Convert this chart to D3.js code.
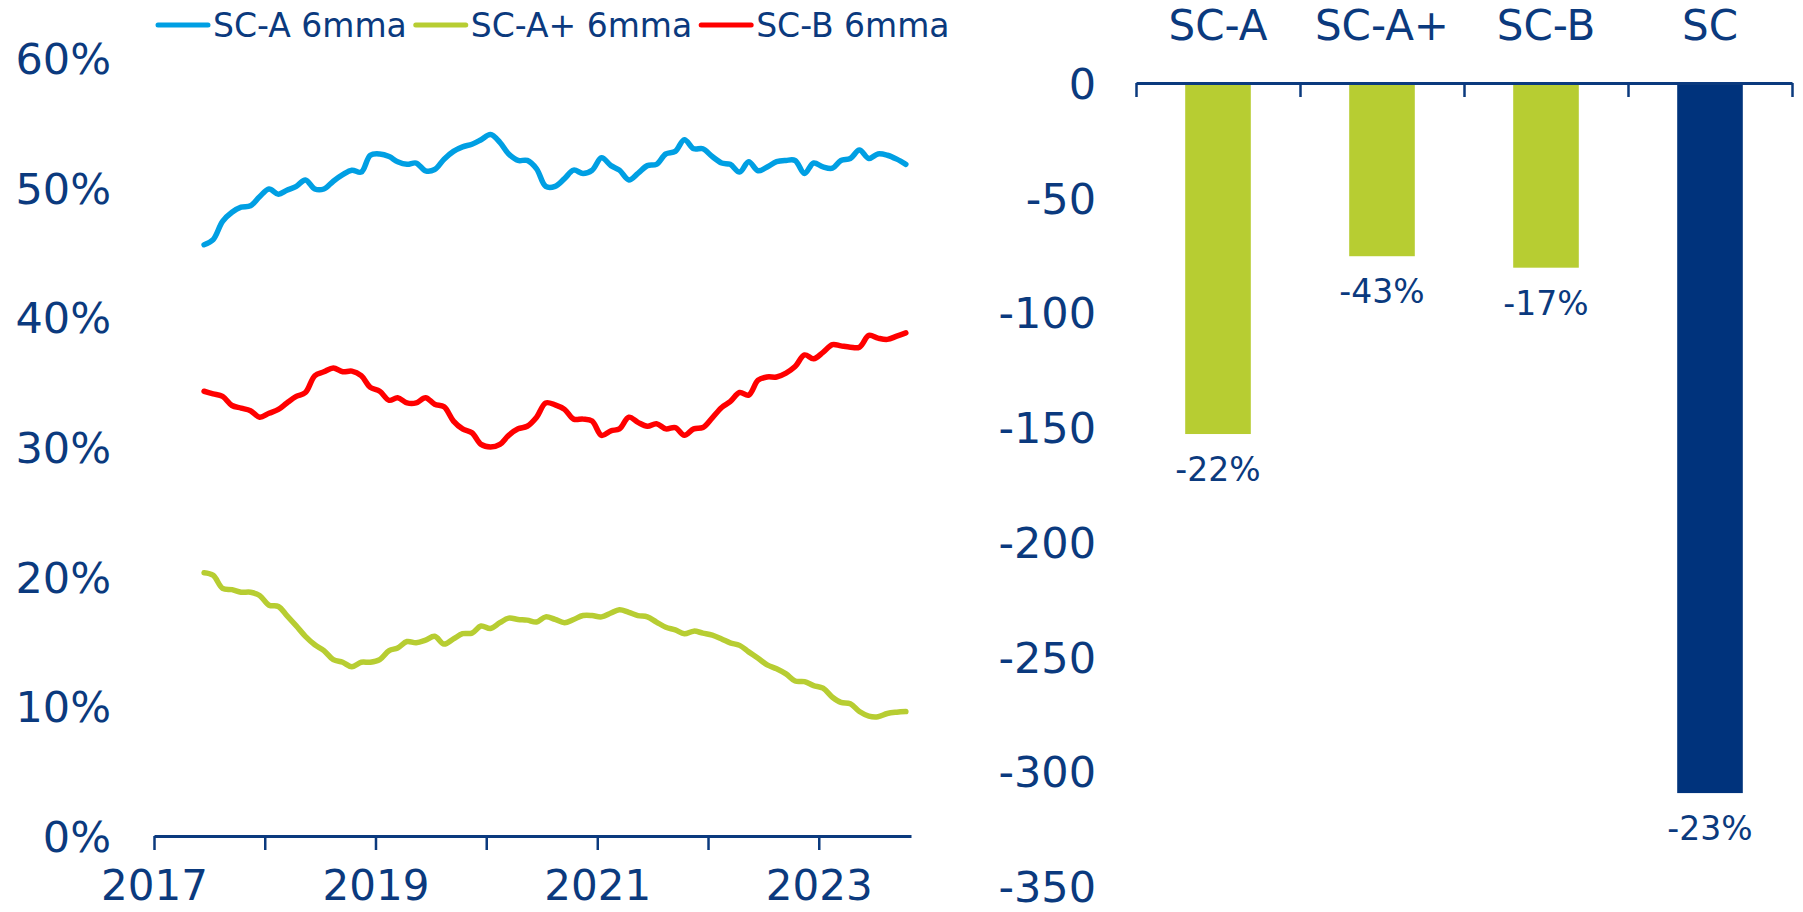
<!DOCTYPE html>
<html>
<head>
<meta charset="utf-8">
<script src="https://cdn.jsdelivr.net/npm/d3@7"></script>
<style>
  html, body { margin: 0; padding: 0; background: #fff; }
  svg text { font-family: "DejaVu Sans", Verdana, sans-serif; fill: #0b3a7e; }
</style>
</head>
<body>
<div id="chart"></div>
<script>
// monthly 6mma shares, Jun 2017 .. Oct 2023
const firstMonth = new Date(2017, 5, 15);
const scA = [45.6, 46.0, 47.4, 48.1, 48.5, 48.6, 49.3, 49.9, 49.5, 49.8, 50.1, 50.6, 49.9, 49.9, 50.5, 51.0,
  51.35, 51.2, 52.5, 52.6, 52.4, 52.0, 51.8, 51.9, 51.3, 51.4, 52.2, 52.8, 53.15, 53.35, 53.7, 54.1,
  53.5, 52.6, 52.1, 52.1, 51.45, 50.1, 50.1, 50.7, 51.35, 51.1, 51.35, 52.3, 51.7, 51.35, 50.6, 51.1,
  51.7, 51.8, 52.6, 52.8, 53.7, 53.0, 53.0, 52.4, 51.9, 51.8, 51.2, 52.0, 51.3, 51.6, 52.0, 52.1,
  52.1, 51.1, 51.9, 51.6, 51.5, 52.1, 52.25, 52.9, 52.25, 52.6, 52.5, 52.2, 51.8];
const scAplus = [20.3, 20.1, 19.1, 19.0, 18.8, 18.8, 18.55, 17.8, 17.7, 17.0, 16.2, 15.4, 14.75, 14.3, 13.6, 13.4,
  13.05, 13.4, 13.4, 13.6, 14.3, 14.5, 15.0, 14.9, 15.1, 15.4, 14.8, 15.2, 15.6, 15.65, 16.2, 16.0,
  16.45, 16.8, 16.7, 16.65, 16.5, 16.9, 16.7, 16.45, 16.7, 17.0, 17.0, 16.9, 17.2, 17.45, 17.25, 17.0,
  16.9, 16.5, 16.1, 15.9, 15.6, 15.8, 15.65, 15.5, 15.2, 14.9, 14.7, 14.2, 13.7, 13.2, 12.9, 12.5,
  11.95, 11.9, 11.6, 11.4, 10.7, 10.3, 10.2, 9.6, 9.25, 9.2, 9.45, 9.55, 9.6];
const scB = [34.3, 34.1, 33.9, 33.2, 33.0, 32.8, 32.3, 32.6, 32.9, 33.4, 33.9, 34.2, 35.5, 35.8, 36.1, 35.8,
  35.85, 35.5, 34.6, 34.3, 33.6, 33.8, 33.4, 33.4, 33.8, 33.3, 33.1, 32.0, 31.4, 31.1, 30.2, 30.0,
  30.2, 30.9, 31.4, 31.6, 32.3, 33.4, 33.25, 32.9, 32.15, 32.15, 32.0, 30.9, 31.25, 31.4, 32.3, 31.9,
  31.6, 31.8, 31.4, 31.5, 30.9, 31.4, 31.5, 32.25, 33.05, 33.5, 34.2, 34.0, 35.15, 35.4, 35.4, 35.7,
  36.2, 37.1, 36.8, 37.3, 37.9, 37.8, 37.7, 37.7, 38.6, 38.4, 38.3, 38.55, 38.8];

const legendNames = ["SC-A 6mma", "SC-A+ 6mma", "SC-B 6mma"];
const lineColors = ["#009fe3", "#b7cd32", "#ff0000"];
const pctTicks = [0, 10, 20, 30, 40, 50, 60];

// right panel
const barCats = ["SC-A", "SC-A+", "SC-B", "SC"];
const barValues = [-153, -75.5, -80.5, -309.5];
const barLabels = ["-22%", "-43%", "-17%", "-23%"];
const barColors = ["#b7cd32", "#b7cd32", "#b7cd32", "#00337c"];
const barTicks = [0, -50, -100, -150, -200, -250, -300, -350];

const navy = "#0b3a7e";
const W = 1803, H = 912;

const svg = d3.select("#chart").append("svg")
  .attr("width", W).attr("height", H);

// ---- left: line chart ----
const dates = scA.map((d, i) => d3.timeMonth.offset(firstMonth, i));
const x = d3.scaleTime()
  .domain([new Date(2017, 0, 1), new Date(2023, 10, 1)])
  .range([154, 911]);
const y = d3.scaleLinear().domain([0, 60]).range([836, 58]);

const yAxisL = svg.append("g")
  .attr("transform", "translate(111,0)")
  .call(d3.axisLeft(y).tickValues(pctTicks).tickFormat(d => d + "%").tickSize(0).tickPadding(0));
yAxisL.select(".domain").remove();
yAxisL.selectAll("text").style("font-size", "43px").attr("dy", "0.36em");

const xAxisL = svg.append("g")
  .attr("transform", "translate(0,836)")
  .call(d3.axisBottom(x)
    .ticks(d3.timeYear.every(1))
    .tickFormat(d => d.getFullYear() % 2 ? d.getFullYear() : "")
    .tickSize(14).tickSizeOuter(0).tickPadding(20));
xAxisL.select(".domain").attr("stroke", navy).attr("stroke-width", 3);
xAxisL.selectAll(".tick line").attr("stroke", navy).attr("stroke-width", 2.5);
xAxisL.selectAll("text").style("font-size", "42px").attr("dy", "0.71em");

const line = d3.line()
  .x((d, i) => x(dates[i]))
  .y(d => y(d))
  .curve(d3.curveCatmullRom.alpha(0.5));

[scA, scAplus, scB].forEach((s, i) => {
  svg.append("path")
    .datum(s)
    .attr("fill", "none")
    .attr("stroke", lineColors[i])
    .attr("stroke-width", 5.5)
    .attr("stroke-linecap", "round")
    .attr("stroke-linejoin", "round")
    .attr("d", line);
});

// legend
let lx = 158;
const legend = svg.append("g").attr("transform", "translate(0,25)");
legendNames.forEach((name, i) => {
  legend.append("line")
    .attr("x1", lx).attr("x2", lx + 50)
    .attr("stroke", lineColors[i]).attr("stroke-width", 5).attr("stroke-linecap", "round");
  const t = legend.append("text")
    .attr("x", lx + 55).attr("dy", "0.36em")
    .style("font-size", "33px")
    .text(name);
  lx = lx + 55 + t.node().getComputedTextLength() + 9;
});

// ---- right: bar chart ----
const bx = d3.scaleBand().domain(barCats).range([1136, 1792]).paddingInner(0.6).paddingOuter(0.3);
const by = d3.scaleLinear().domain([-350, 0]).range([886, 83]);
const edges = d3.scaleLinear().domain([0, barCats.length]).range([1136, 1792]);

svg.append("g").selectAll("rect")
  .data(barValues)
  .join("rect")
  .attr("x", (d, i) => bx(barCats[i]))
  .attr("width", bx.bandwidth())
  .attr("y", by(0))
  .attr("height", d => by(d) - by(0))
  .attr("fill", (d, i) => barColors[i]);

const yAxisR = svg.append("g")
  .attr("transform", "translate(1096,0)")
  .call(d3.axisLeft(by).tickValues(barTicks).tickFormat(d => String(d)).tickSize(0).tickPadding(0));
yAxisR.select(".domain").remove();
yAxisR.selectAll("text").style("font-size", "43px").attr("dy", "0.36em");

const zeroAxis = svg.append("g")
  .attr("transform", "translate(0," + by(0) + ")")
  .call(d3.axisBottom(edges).tickValues(d3.range(0, barCats.length + 1)).tickFormat("").tickSize(14).tickSizeOuter(0));
zeroAxis.select(".domain").attr("stroke", navy).attr("stroke-width", 3);
zeroAxis.selectAll(".tick line").attr("stroke", navy).attr("stroke-width", 2.5);

svg.append("g").selectAll("text")
  .data(barCats)
  .join("text")
  .attr("x", d => bx(d) + bx.bandwidth() / 2)
  .attr("y", 25)
  .attr("dy", "0.36em")
  .attr("text-anchor", "middle")
  .style("font-size", "42px")
  .text(d => d);

svg.append("g").selectAll("text")
  .data(barValues)
  .join("text")
  .attr("x", (d, i) => bx(barCats[i]) + bx.bandwidth() / 2)
  .attr("y", d => by(d) + 35)
  .attr("dy", "0.36em")
  .attr("text-anchor", "middle")
  .style("font-size", "33px")
  .text((d, i) => barLabels[i]);
</script>
</body>
</html>
